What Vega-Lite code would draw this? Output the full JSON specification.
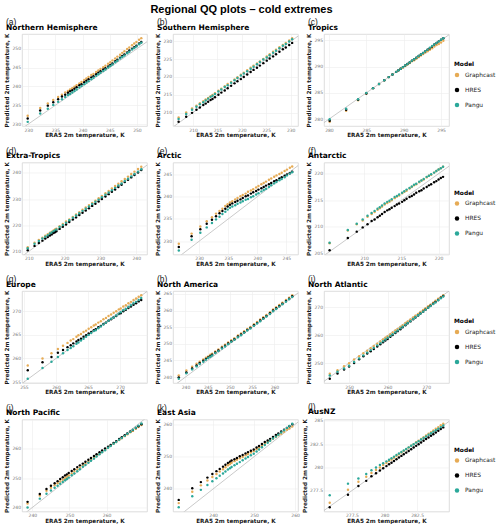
{
"$schema":"https://vega.github.io/schema/vega-lite/v6.json",
"padding":{"left":3,"top":3,"right":0,"bottom":0},
"title":{"text":"Regional QQ plots – cold extremes","anchor":"middle","frame":"bounds","dx":-8,"font":"Liberation Sans","fontSize":11,"fontWeight":"bold","color":"#000","offset":3},
"datasets":{
"diag":[{"x":100,"y":100},{"x":400,"y":400}],
"a":[{"x":229.9,"g":232.2,"h":231.5,"p":230.6},{"x":232.2,"g":234.3,"h":233.6,"p":232.8},{"x":233.6,"g":235.5,"h":234.9,"p":234.1},{"x":234.6,"g":236.4,"h":235.8,"p":235.1},{"x":235.5,"g":237.2,"h":236.6,"p":235.9},{"x":236.2,"g":237.8,"h":237.3,"p":236.6},{"x":236.8,"g":238.4,"h":237.8,"p":237.2},{"x":237.3,"g":238.8,"h":238.3,"p":237.7},{"x":237.7,"g":239.2,"h":238.7,"p":238.0},{"x":238.1,"g":239.5,"h":239.0,"p":238.4},{"x":238.5,"g":239.9,"h":239.4,"p":238.8},{"x":238.9,"g":240.3,"h":239.8,"p":239.2},{"x":239.4,"g":240.8,"h":240.3,"p":239.7},{"x":239.8,"g":241.2,"h":240.6,"p":240.1},{"x":240.3,"g":241.7,"h":241.1,"p":240.6},{"x":240.7,"g":242.1,"h":241.5,"p":241.0},{"x":241.1,"g":242.5,"h":241.9,"p":241.4},{"x":241.6,"g":243.0,"h":242.4,"p":241.9},{"x":242.0,"g":243.3,"h":242.7,"p":242.3},{"x":242.5,"g":243.8,"h":243.2,"p":242.8},{"x":242.9,"g":244.2,"h":243.6,"p":243.2},{"x":243.3,"g":244.6,"h":244.0,"p":243.6},{"x":243.8,"g":245.1,"h":244.5,"p":244.1},{"x":244.2,"g":245.5,"h":244.8,"p":244.5},{"x":244.7,"g":246.0,"h":245.3,"p":245.0},{"x":245.1,"g":246.4,"h":245.7,"p":245.4},{"x":245.5,"g":246.9,"h":246.1,"p":245.8},{"x":246.0,"g":247.4,"h":246.7,"p":246.4},{"x":246.4,"g":247.9,"h":247.1,"p":246.8},{"x":246.9,"g":248.4,"h":247.6,"p":247.4},{"x":247.3,"g":248.9,"h":248.1,"p":247.8},{"x":247.7,"g":249.3,"h":248.5,"p":248.2},{"x":248.2,"g":249.9,"h":249.0,"p":248.8},{"x":248.6,"g":250.3,"h":249.5,"p":249.2},{"x":249.1,"g":250.9,"h":250.0,"p":249.8},{"x":249.5,"g":251.4,"h":250.4,"p":250.2},{"x":249.9,"g":251.8,"h":250.8,"p":250.6},{"x":250.4,"g":252.4,"h":251.4,"p":251.2},{"x":250.8,"g":252.8,"h":251.8,"p":251.6}],
"b":[{"x":207.05,"g":208.6,"h":207.4,"p":208.2},{"x":208.6,"g":210.0,"h":208.8,"p":209.6},{"x":209.8,"g":211.1,"h":209.9,"p":210.8},{"x":210.7,"g":211.9,"h":210.8,"p":211.6},{"x":211.4,"g":212.6,"h":211.4,"p":212.3},{"x":212.1,"g":213.2,"h":212.1,"p":212.9},{"x":212.6,"g":213.7,"h":212.5,"p":213.4},{"x":213.1,"g":214.1,"h":213.0,"p":213.9},{"x":213.6,"g":214.6,"h":213.5,"p":214.4},{"x":214.0,"g":214.9,"h":213.8,"p":214.7},{"x":214.5,"g":215.4,"h":214.3,"p":215.2},{"x":215.2,"g":216.1,"h":215.0,"p":215.9},{"x":215.8,"g":216.7,"h":215.6,"p":216.5},{"x":216.5,"g":217.4,"h":216.2,"p":217.2},{"x":217.1,"g":218.0,"h":216.8,"p":217.7},{"x":217.8,"g":218.6,"h":217.5,"p":218.4},{"x":218.5,"g":219.3,"h":218.2,"p":219.1},{"x":219.1,"g":219.9,"h":218.8,"p":219.7},{"x":219.8,"g":220.6,"h":219.4,"p":220.4},{"x":220.4,"g":221.2,"h":220.0,"p":221.0},{"x":221.1,"g":221.9,"h":220.7,"p":221.6},{"x":221.8,"g":222.6,"h":221.4,"p":222.3},{"x":222.4,"g":223.2,"h":222.0,"p":222.9},{"x":223.1,"g":223.8,"h":222.6,"p":223.6},{"x":223.7,"g":224.4,"h":223.2,"p":224.2},{"x":224.4,"g":225.1,"h":223.9,"p":224.9},{"x":225.1,"g":225.8,"h":224.6,"p":225.5},{"x":225.7,"g":226.4,"h":225.2,"p":226.1},{"x":226.4,"g":227.1,"h":225.8,"p":226.8},{"x":227.0,"g":227.7,"h":226.4,"p":227.4},{"x":227.7,"g":228.4,"h":227.1,"p":228.1},{"x":228.4,"g":229.0,"h":227.8,"p":228.8},{"x":229.0,"g":229.6,"h":228.3,"p":229.3},{"x":229.7,"g":230.3,"h":229.0,"p":230.0},{"x":230.3,"g":230.9,"h":229.6,"p":230.6}],
"c":[{"x":280.1,"g":279.5,"h":279.7,"p":280.0},{"x":282.3,"g":281.6,"h":281.8,"p":282.0},{"x":283.9,"g":283.6,"h":283.7,"p":283.8},{"x":285.0,"g":284.9,"h":284.9,"p":285.0},{"x":285.9,"g":285.9,"h":285.9,"p":285.9},{"x":286.7,"g":286.7,"h":286.7,"p":286.7},{"x":287.4,"g":287.4,"h":287.4,"p":287.4},{"x":288.0,"g":288.0,"h":288.0,"p":288.0},{"x":288.5,"g":288.5,"h":288.5,"p":288.5},{"x":289.0,"g":289.0,"h":289.0,"p":289.0},{"x":289.3,"g":289.3,"h":289.3,"p":289.3},{"x":289.6,"g":289.6,"h":289.6,"p":289.6},{"x":289.9,"g":289.8,"h":289.9,"p":289.9},{"x":290.2,"g":290.1,"h":290.2,"p":290.2},{"x":290.5,"g":290.4,"h":290.5,"p":290.5},{"x":290.8,"g":290.7,"h":290.8,"p":290.8},{"x":291.1,"g":291.0,"h":291.1,"p":291.1},{"x":291.4,"g":291.2,"h":291.4,"p":291.4},{"x":291.7,"g":291.5,"h":291.7,"p":291.7},{"x":292.0,"g":291.8,"h":292.0,"p":292.0},{"x":292.3,"g":292.1,"h":292.3,"p":292.3},{"x":292.6,"g":292.4,"h":292.6,"p":292.6},{"x":292.9,"g":292.7,"h":292.9,"p":292.9},{"x":293.2,"g":292.9,"h":293.2,"p":293.2},{"x":293.5,"g":293.2,"h":293.5,"p":293.6},{"x":293.8,"g":293.5,"h":293.8,"p":293.9},{"x":294.1,"g":293.8,"h":294.2,"p":294.2},{"x":294.4,"g":294.1,"h":294.5,"p":294.5},{"x":294.7,"g":294.3,"h":294.8,"p":294.8},{"x":295.0,"g":294.6,"h":295.1,"p":295.1},{"x":295.3,"g":294.9,"h":295.4,"p":295.4}],
"d":[{"x":209.7,"g":211.6,"h":210.4,"p":211.2},{"x":211.6,"g":213.3,"h":212.1,"p":212.9},{"x":212.8,"g":214.4,"h":213.2,"p":214.0},{"x":213.8,"g":215.2,"h":214.1,"p":214.9},{"x":214.6,"g":216.0,"h":214.9,"p":215.6},{"x":215.3,"g":216.6,"h":215.5,"p":216.2},{"x":215.9,"g":217.1,"h":216.1,"p":216.8},{"x":216.4,"g":217.5,"h":216.5,"p":217.2},{"x":216.9,"g":218.0,"h":217.0,"p":217.7},{"x":217.3,"g":218.4,"h":217.3,"p":218.0},{"x":217.7,"g":218.7,"h":217.7,"p":218.4},{"x":218.6,"g":219.6,"h":218.6,"p":219.3},{"x":219.5,"g":220.5,"h":219.4,"p":220.1},{"x":220.4,"g":221.4,"h":220.3,"p":221.0},{"x":221.3,"g":222.2,"h":221.2,"p":221.9},{"x":222.3,"g":223.2,"h":222.2,"p":222.9},{"x":223.2,"g":224.1,"h":223.0,"p":223.7},{"x":224.1,"g":225.0,"h":223.9,"p":224.6},{"x":225.0,"g":225.9,"h":224.8,"p":225.5},{"x":225.9,"g":226.8,"h":225.6,"p":226.3},{"x":226.8,"g":227.7,"h":226.5,"p":227.2},{"x":227.7,"g":228.5,"h":227.4,"p":228.1},{"x":228.6,"g":229.4,"h":228.2,"p":229.0},{"x":229.5,"g":230.3,"h":229.1,"p":229.8},{"x":230.4,"g":231.2,"h":230.0,"p":230.7},{"x":231.4,"g":232.2,"h":231.0,"p":231.7},{"x":232.3,"g":233.1,"h":231.9,"p":232.5},{"x":233.2,"g":234.1,"h":232.8,"p":233.4},{"x":234.1,"g":235.0,"h":233.7,"p":234.3},{"x":235.0,"g":235.9,"h":234.6,"p":235.2},{"x":235.9,"g":236.8,"h":235.5,"p":236.0},{"x":236.8,"g":237.7,"h":236.5,"p":236.9},{"x":237.7,"g":238.6,"h":237.4,"p":237.8},{"x":238.6,"g":239.6,"h":238.3,"p":238.7},{"x":239.5,"g":240.5,"h":239.2,"p":239.6},{"x":240.5,"g":241.5,"h":240.2,"p":240.5},{"x":241.4,"g":242.4,"h":241.1,"p":241.4}],
"e":[{"x":226.5,"g":229.4,"h":228.7,"p":227.9},{"x":228.7,"g":231.7,"h":231.1,"p":230.3},{"x":230.2,"g":233.3,"h":232.7,"p":231.9},{"x":231.3,"g":234.5,"h":233.9,"p":233.1},{"x":232.2,"g":235.4,"h":234.8,"p":234.1},{"x":232.9,"g":236.2,"h":235.6,"p":234.9},{"x":233.5,"g":236.8,"h":236.3,"p":235.5},{"x":234.0,"g":237.3,"h":236.8,"p":236.1},{"x":234.5,"g":237.9,"h":237.3,"p":236.6},{"x":234.9,"g":238.3,"h":237.8,"p":237.1},{"x":235.3,"g":238.7,"h":238.2,"p":237.5},{"x":235.7,"g":239.0,"h":238.5,"p":237.8},{"x":236.2,"g":239.4,"h":238.8,"p":238.1},{"x":236.6,"g":239.7,"h":239.1,"p":238.4},{"x":237.1,"g":240.1,"h":239.4,"p":238.7},{"x":237.5,"g":240.4,"h":239.7,"p":239.0},{"x":238.0,"g":240.7,"h":240.1,"p":239.3},{"x":238.4,"g":241.1,"h":240.3,"p":239.5},{"x":238.9,"g":241.4,"h":240.7,"p":239.9},{"x":239.3,"g":241.7,"h":241.0,"p":240.1},{"x":239.8,"g":242.1,"h":241.3,"p":240.5},{"x":240.2,"g":242.4,"h":241.6,"p":240.8},{"x":240.7,"g":242.8,"h":241.9,"p":241.2},{"x":241.1,"g":243.1,"h":242.2,"p":241.5},{"x":241.5,"g":243.4,"h":242.5,"p":241.8},{"x":242.0,"g":243.8,"h":242.8,"p":242.2},{"x":242.4,"g":244.1,"h":243.1,"p":242.6},{"x":242.9,"g":244.5,"h":243.5,"p":243.0},{"x":243.3,"g":244.8,"h":243.7,"p":243.3},{"x":243.8,"g":245.1,"h":244.1,"p":243.7},{"x":244.2,"g":245.4,"h":244.4,"p":244.0},{"x":244.7,"g":245.8,"h":244.7,"p":244.4},{"x":245.1,"g":246.1,"h":245.0,"p":244.8},{"x":245.6,"g":246.5,"h":245.3,"p":245.2},{"x":246.0,"g":246.8,"h":245.6,"p":245.5}],
"f":[{"x":205.35,"g":206.9,"h":205.6,"p":207.0},{"x":207.8,"g":209.3,"h":207.9,"p":209.4},{"x":209.0,"g":210.5,"h":209.1,"p":210.6},{"x":209.8,"g":211.2,"h":209.9,"p":211.4},{"x":210.45,"g":211.9,"h":210.5,"p":212.1},{"x":211.0,"g":212.4,"h":211.1,"p":212.6},{"x":211.4,"g":212.8,"h":211.4,"p":213.0},{"x":211.8,"g":213.2,"h":211.8,"p":213.4},{"x":212.1,"g":213.5,"h":212.1,"p":213.7},{"x":212.4,"g":213.8,"h":212.4,"p":214.0},{"x":212.75,"g":214.2,"h":212.8,"p":214.4},{"x":213.1,"g":214.5,"h":213.1,"p":214.7},{"x":213.4,"g":214.7,"h":213.3,"p":214.9},{"x":213.7,"g":215.0,"h":213.6,"p":215.2},{"x":214.1,"g":215.4,"h":213.9,"p":215.6},{"x":214.4,"g":215.7,"h":214.2,"p":215.8},{"x":214.7,"g":215.9,"h":214.4,"p":216.1},{"x":215.1,"g":216.3,"h":214.7,"p":216.4},{"x":215.4,"g":216.6,"h":215.0,"p":216.7},{"x":215.7,"g":216.8,"h":215.3,"p":217.0},{"x":216.1,"g":217.2,"h":215.6,"p":217.3},{"x":216.4,"g":217.5,"h":215.8,"p":217.6},{"x":216.7,"g":217.8,"h":216.1,"p":217.9},{"x":217.0,"g":218.0,"h":216.4,"p":218.1},{"x":217.4,"g":218.4,"h":216.7,"p":218.5},{"x":217.7,"g":218.7,"h":216.9,"p":218.7},{"x":218.0,"g":218.9,"h":217.2,"p":219.0},{"x":218.4,"g":219.3,"h":217.5,"p":219.4},{"x":218.7,"g":219.6,"h":217.8,"p":219.6},{"x":219.0,"g":219.8,"h":218.0,"p":219.9},{"x":219.4,"g":220.2,"h":218.4,"p":220.2},{"x":219.7,"g":220.5,"h":218.6,"p":220.5},{"x":220.0,"g":220.8,"h":218.9,"p":220.8},{"x":220.3,"g":221.0,"h":219.2,"p":221.0},{"x":220.6,"g":221.3,"h":219.4,"p":221.3}],
"g":[{"x":255.6,"g":258.5,"h":257.5,"p":255.7},{"x":257.9,"g":260.0,"h":259.2,"p":258.0},{"x":259.3,"g":261.1,"h":260.3,"p":259.3},{"x":260.3,"g":262.0,"h":261.2,"p":260.3},{"x":261.1,"g":262.7,"h":261.8,"p":261.1},{"x":261.8,"g":263.3,"h":262.4,"p":261.8},{"x":262.3,"g":263.8,"h":262.8,"p":262.2},{"x":262.7,"g":264.1,"h":263.2,"p":262.6},{"x":263.2,"g":264.6,"h":263.6,"p":263.1},{"x":263.5,"g":264.9,"h":263.9,"p":263.4},{"x":263.9,"g":265.2,"h":264.2,"p":263.8},{"x":264.3,"g":265.6,"h":264.6,"p":264.2},{"x":264.7,"g":265.9,"h":264.9,"p":264.6},{"x":265.1,"g":266.3,"h":265.3,"p":265.0},{"x":265.5,"g":266.6,"h":265.6,"p":265.4},{"x":265.9,"g":267.0,"h":266.0,"p":265.8},{"x":266.2,"g":267.2,"h":266.2,"p":266.0},{"x":266.6,"g":267.6,"h":266.6,"p":266.4},{"x":267.0,"g":267.9,"h":266.9,"p":266.8},{"x":267.4,"g":268.3,"h":267.3,"p":267.2},{"x":267.8,"g":268.6,"h":267.6,"p":267.6},{"x":268.2,"g":269.0,"h":268.0,"p":268.0},{"x":268.6,"g":269.3,"h":268.3,"p":268.4},{"x":269.0,"g":269.7,"h":268.7,"p":268.7},{"x":269.4,"g":270.0,"h":269.0,"p":269.1},{"x":269.8,"g":270.4,"h":269.4,"p":269.5},{"x":270.1,"g":270.6,"h":269.6,"p":269.8},{"x":270.5,"g":271.0,"h":270.0,"p":270.2},{"x":270.9,"g":271.3,"h":270.3,"p":270.5},{"x":271.3,"g":271.7,"h":270.7,"p":270.9},{"x":271.7,"g":272.0,"h":271.0,"p":271.3},{"x":272.1,"g":272.4,"h":271.4,"p":271.7},{"x":272.5,"g":272.7,"h":271.7,"p":272.0},{"x":272.9,"g":273.1,"h":272.1,"p":272.4},{"x":273.3,"g":273.4,"h":272.4,"p":272.8}],
"h":[{"x":238.5,"g":240.5,"h":239.9,"p":239.5},{"x":240.2,"g":242.0,"h":241.4,"p":241.1},{"x":241.5,"g":243.1,"h":242.6,"p":242.3},{"x":242.5,"g":244.0,"h":243.5,"p":243.2},{"x":243.2,"g":244.6,"h":244.2,"p":243.9},{"x":244.0,"g":245.3,"h":244.9,"p":244.6},{"x":244.6,"g":245.8,"h":245.4,"p":245.2},{"x":245.1,"g":246.2,"h":245.9,"p":245.7},{"x":245.6,"g":246.7,"h":246.3,"p":246.1},{"x":246.0,"g":247.0,"h":246.7,"p":246.5},{"x":246.7,"g":247.7,"h":247.4,"p":247.2},{"x":247.4,"g":248.3,"h":248.0,"p":247.8},{"x":248.2,"g":249.1,"h":248.8,"p":248.6},{"x":248.9,"g":249.7,"h":249.4,"p":249.2},{"x":249.6,"g":250.4,"h":250.1,"p":249.9},{"x":250.3,"g":251.1,"h":250.8,"p":250.6},{"x":251.0,"g":251.7,"h":251.4,"p":251.2},{"x":251.8,"g":252.5,"h":252.2,"p":252.0},{"x":252.5,"g":253.1,"h":252.8,"p":252.6},{"x":253.2,"g":253.8,"h":253.5,"p":253.3},{"x":253.9,"g":254.5,"h":254.2,"p":254.0},{"x":254.6,"g":255.1,"h":254.8,"p":254.6},{"x":255.4,"g":255.9,"h":255.6,"p":255.4},{"x":256.1,"g":256.6,"h":256.3,"p":256.1},{"x":256.8,"g":257.3,"h":257.0,"p":256.8},{"x":257.5,"g":258.0,"h":257.7,"p":257.5},{"x":258.2,"g":258.7,"h":258.4,"p":258.2},{"x":259.0,"g":259.5,"h":259.2,"p":259.0},{"x":259.7,"g":260.3,"h":260.0,"p":259.8},{"x":260.4,"g":261.0,"h":260.7,"p":260.5},{"x":261.1,"g":261.7,"h":261.4,"p":261.2},{"x":261.8,"g":262.4,"h":262.1,"p":261.9},{"x":262.6,"g":263.2,"h":262.9,"p":262.7},{"x":263.3,"g":263.9,"h":263.6,"p":263.4},{"x":264.0,"g":264.6,"h":264.3,"p":264.1}],
"i":[{"x":245.0,"g":246.2,"h":244.4,"p":245.6},{"x":247.0,"g":247.5,"h":246.3,"p":246.9},{"x":248.7,"g":248.9,"h":247.7,"p":248.1},{"x":250.0,"g":250.0,"h":248.8,"p":249.1},{"x":251.3,"g":251.3,"h":250.1,"p":250.4},{"x":252.6,"g":252.5,"h":251.4,"p":251.7},{"x":253.7,"g":253.6,"h":252.5,"p":252.8},{"x":254.7,"g":254.5,"h":253.5,"p":253.8},{"x":255.6,"g":255.4,"h":254.3,"p":254.7},{"x":256.4,"g":256.2,"h":255.1,"p":255.5},{"x":257.3,"g":257.0,"h":256.0,"p":256.4},{"x":258.1,"g":257.8,"h":256.8,"p":257.2},{"x":258.8,"g":258.5,"h":257.5,"p":257.9},{"x":259.4,"g":259.1,"h":258.1,"p":258.5},{"x":260.0,"g":259.7,"h":258.7,"p":259.1},{"x":260.7,"g":260.4,"h":259.5,"p":259.8},{"x":261.3,"g":261.0,"h":260.1,"p":260.4},{"x":262.0,"g":261.7,"h":260.8,"p":261.1},{"x":262.6,"g":262.3,"h":261.5,"p":261.7},{"x":263.3,"g":263.0,"h":262.2,"p":262.5},{"x":263.9,"g":263.6,"h":262.9,"p":263.1},{"x":264.6,"g":264.4,"h":263.6,"p":263.8},{"x":265.2,"g":265.0,"h":264.3,"p":264.4},{"x":265.9,"g":265.7,"h":265.0,"p":265.1},{"x":266.6,"g":266.4,"h":265.8,"p":265.9},{"x":267.2,"g":267.0,"h":266.4,"p":266.5},{"x":267.9,"g":267.7,"h":267.1,"p":267.2},{"x":268.5,"g":268.4,"h":267.8,"p":267.8},{"x":269.2,"g":269.1,"h":268.5,"p":268.5},{"x":269.8,"g":269.7,"h":269.2,"p":269.2},{"x":270.5,"g":270.4,"h":269.9,"p":269.9},{"x":271.1,"g":271.0,"h":270.6,"p":270.5},{"x":271.8,"g":271.7,"h":271.3,"p":271.2},{"x":272.4,"g":272.4,"h":272.0,"p":271.8},{"x":273.1,"g":273.1,"h":272.7,"p":272.6},{"x":273.8,"g":273.8,"h":273.5,"p":273.3},{"x":274.4,"g":274.4,"h":274.1,"p":273.9}],
"j":[{"x":238.7,"g":241.3,"h":241.9,"p":240.0},{"x":242.0,"g":244.1,"h":244.6,"p":243.0},{"x":243.8,"g":245.7,"h":246.3,"p":244.7},{"x":245.0,"g":246.7,"h":247.4,"p":245.8},{"x":246.0,"g":247.6,"h":248.3,"p":246.7},{"x":246.8,"g":248.3,"h":249.0,"p":247.4},{"x":247.5,"g":248.9,"h":249.7,"p":248.1},{"x":248.2,"g":249.5,"h":250.3,"p":248.7},{"x":248.8,"g":250.0,"h":250.9,"p":249.3},{"x":249.3,"g":250.5,"h":251.3,"p":249.7},{"x":249.8,"g":250.9,"h":251.8,"p":250.2},{"x":250.6,"g":251.6,"h":252.5,"p":251.0},{"x":251.3,"g":252.3,"h":253.1,"p":251.6},{"x":252.1,"g":253.0,"h":253.8,"p":252.4},{"x":252.8,"g":253.6,"h":254.4,"p":253.1},{"x":253.6,"g":254.4,"h":255.0,"p":253.9},{"x":254.3,"g":255.0,"h":255.6,"p":254.5},{"x":255.1,"g":255.7,"h":256.3,"p":255.3},{"x":255.8,"g":256.4,"h":256.9,"p":256.0},{"x":256.6,"g":257.1,"h":257.6,"p":256.7},{"x":257.3,"g":257.7,"h":258.2,"p":257.4},{"x":258.1,"g":258.5,"h":258.9,"p":258.2},{"x":258.8,"g":259.1,"h":259.5,"p":258.9},{"x":259.6,"g":259.8,"h":260.2,"p":259.6},{"x":260.4,"g":260.5,"h":260.8,"p":260.4},{"x":261.1,"g":261.1,"h":261.4,"p":261.0},{"x":261.9,"g":261.8,"h":262.1,"p":261.8},{"x":262.6,"g":262.4,"h":262.7,"p":262.4},{"x":263.4,"g":263.1,"h":263.4,"p":263.2},{"x":264.1,"g":263.7,"h":264.0,"p":263.8},{"x":264.9,"g":264.4,"h":264.7,"p":264.5},{"x":265.6,"g":265.0,"h":265.3,"p":265.2},{"x":266.4,"g":265.7,"h":266.0,"p":265.9},{"x":267.1,"g":266.2,"h":266.5,"p":266.6},{"x":267.9,"g":266.9,"h":267.2,"p":267.3},{"x":268.6,"g":267.5,"h":267.8,"p":268.0},{"x":269.4,"g":268.2,"h":268.5,"p":268.7}],
"k":[{"x":231.6,"g":235.6,"h":236.6,"p":234.3},{"x":234.9,"g":239.1,"h":240.2,"p":237.7},{"x":237.0,"g":241.1,"h":242.1,"p":239.7},{"x":238.6,"g":242.6,"h":243.5,"p":241.2},{"x":239.8,"g":243.7,"h":244.6,"p":242.4},{"x":240.8,"g":244.6,"h":245.5,"p":243.3},{"x":241.6,"g":245.4,"h":246.2,"p":244.1},{"x":242.4,"g":246.1,"h":246.9,"p":244.8},{"x":243.0,"g":246.7,"h":247.5,"p":245.4},{"x":243.6,"g":247.3,"h":248.0,"p":246.0},{"x":244.1,"g":247.7,"h":248.4,"p":246.4},{"x":244.5,"g":248.1,"h":248.8,"p":246.8},{"x":245.2,"g":248.6,"h":249.2,"p":247.3},{"x":245.8,"g":249.0,"h":249.6,"p":247.8},{"x":246.5,"g":249.5,"h":250.1,"p":248.3},{"x":247.2,"g":249.9,"h":250.5,"p":248.9},{"x":247.9,"g":250.4,"h":251.0,"p":249.4},{"x":248.5,"g":250.8,"h":251.4,"p":249.9},{"x":249.2,"g":251.3,"h":251.8,"p":250.4},{"x":249.9,"g":251.7,"h":252.2,"p":250.9},{"x":250.6,"g":252.3,"h":252.8,"p":251.6},{"x":251.2,"g":252.8,"h":253.3,"p":252.2},{"x":251.9,"g":253.3,"h":253.9,"p":252.9},{"x":252.6,"g":253.9,"h":254.5,"p":253.6},{"x":253.3,"g":254.5,"h":255.0,"p":254.3},{"x":253.9,"g":255.0,"h":255.5,"p":254.9},{"x":254.6,"g":255.5,"h":256.1,"p":255.6},{"x":255.3,"g":256.1,"h":256.7,"p":256.2},{"x":255.9,"g":256.6,"h":257.2,"p":256.8},{"x":256.6,"g":257.1,"h":257.8,"p":257.5},{"x":257.3,"g":257.7,"h":258.3,"p":258.2},{"x":258.0,"g":258.3,"h":258.9,"p":258.9},{"x":258.6,"g":258.7,"h":259.4,"p":259.5},{"x":259.3,"g":259.3,"h":260.0,"p":260.2}],
"l":[{"x":275.8,"g":276.2,"h":275.7,"p":277.0},{"x":277.2,"g":277.6,"h":277.05,"p":278.25},{"x":278.0,"g":278.45,"h":278.0,"p":278.8},{"x":278.6,"g":279.0,"h":278.55,"p":279.3},{"x":279.0,"g":279.4,"h":279.05,"p":279.7},{"x":279.35,"g":279.72,"h":279.38,"p":280.0},{"x":279.65,"g":280.0,"h":279.67,"p":280.25},{"x":279.9,"g":280.25,"h":279.9,"p":280.45},{"x":280.15,"g":280.48,"h":280.14,"p":280.65},{"x":280.35,"g":280.68,"h":280.33,"p":280.82},{"x":280.54,"g":280.86,"h":280.51,"p":280.99},{"x":280.73,"g":281.05,"h":280.69,"p":281.16},{"x":280.92,"g":281.23,"h":280.88,"p":281.33},{"x":281.11,"g":281.42,"h":281.06,"p":281.49},{"x":281.3,"g":281.6,"h":281.24,"p":281.66},{"x":281.48,"g":281.77,"h":281.41,"p":281.82},{"x":281.67,"g":281.96,"h":281.59,"p":281.99},{"x":281.86,"g":282.14,"h":281.77,"p":282.16},{"x":282.05,"g":282.33,"h":281.96,"p":282.33},{"x":282.24,"g":282.51,"h":282.14,"p":282.5},{"x":282.43,"g":282.7,"h":282.32,"p":282.67},{"x":282.62,"g":282.88,"h":282.5,"p":282.83},{"x":282.81,"g":283.06,"h":282.68,"p":283.0},{"x":283.0,"g":283.25,"h":282.87,"p":283.17},{"x":283.19,"g":283.43,"h":283.05,"p":283.34},{"x":283.38,"g":283.62,"h":283.23,"p":283.51},{"x":283.57,"g":283.8,"h":283.41,"p":283.68},{"x":283.75,"g":283.97,"h":283.58,"p":283.84},{"x":283.94,"g":284.16,"h":283.76,"p":284.0},{"x":284.13,"g":284.34,"h":283.95,"p":284.17},{"x":284.32,"g":284.53,"h":284.13,"p":284.34},{"x":284.51,"g":284.71,"h":284.31,"p":284.51}]
},
"vconcat":[
{"hconcat":[
{"width":125,"height":92,"title":{"text":"(a)","subtitle":"\u00a0\u00a0\u00a0\u00a0\u00a0\u00a0Northern Hemisphere"},
"encoding":{"x":{"field":"x","type":"quantitative","scale":{"domain":[228.85,251.85],"nice":false,"zero":false},"axis":{"values":[230,235,240,245,250]},"title":"ERA5 2m temperature, K"},"y":{"field":"y","type":"quantitative","scale":{"domain":[229.5,253.9],"nice":false,"zero":false},"axis":{"values":[230,235,240,245,250]},"title":"Predicted 2m temperature, K"}},
"layer":[{"data":{"name":"diag"},"mark":{"type":"line","clip":true,"color":"#b3b3b3","strokeWidth":0.7}},
{"data":{"name":"a"},"transform":[{"fold":["g","h","p"],"as":["m","y"]}],"mark":{"type":"circle","size":6,"opacity":1},"encoding":{"color":{"field":"m","type":"nominal","scale":{"domain":["g","h","p"],"range":["#E6AB55","#000000","#2BA89A"]},"legend":{"title":"Model","orient":"none","legendX":432,"legendY":27,"labelExpr":"datum.label == 'g' ? 'Graphcast' : datum.label == 'h' ? 'HRES' : 'Pangu'"}}}}]},
{"width":125,"height":92,"title":{"text":"(b)","subtitle":"\u00a0\u00a0\u00a0\u00a0\u00a0\u00a0Southern Hemisphere"},
"encoding":{"x":{"field":"x","type":"quantitative","scale":{"domain":[205.9,231.5],"nice":false,"zero":false},"axis":{"values":[210,215,220,225,230]},"title":"ERA5 2m temperature, K"},"y":{"field":"y","type":"quantitative","scale":{"domain":[206.2,232.1],"nice":false,"zero":false},"axis":{"values":[210,215,220,225,230]},"title":"Predicted 2m temperature, K"}},
"layer":[{"data":{"name":"diag"},"mark":{"type":"line","clip":true,"color":"#b3b3b3","strokeWidth":0.7}},
{"data":{"name":"b"},"transform":[{"fold":["g","h","p"],"as":["m","y"]}],"mark":{"type":"circle","size":6,"opacity":1},"encoding":{"color":{"field":"m","type":"nominal","scale":{"domain":["g","h","p"],"range":["#E6AB55","#000000","#2BA89A"]},"legend":{"title":"Model","orient":"none","legendX":432,"legendY":27,"labelExpr":"datum.label == 'g' ? 'Graphcast' : datum.label == 'h' ? 'HRES' : 'Pangu'"}}}}]},
{"width":125,"height":92,"title":{"text":"(c)","subtitle":"\u00a0\u00a0\u00a0\u00a0\u00a0\u00a0Tropics"},
"encoding":{"x":{"field":"x","type":"quantitative","scale":{"domain":[279.34,296.06],"nice":false,"zero":false},"axis":{"values":[280,285,290,295]},"title":"ERA5 2m temperature, K"},"y":{"field":"y","type":"quantitative","scale":{"domain":[278.7,296.2],"nice":false,"zero":false},"axis":{"values":[280,285,290,295]},"title":"Predicted 2m temperature, K"}},
"layer":[{"data":{"name":"diag"},"mark":{"type":"line","clip":true,"color":"#b3b3b3","strokeWidth":0.7}},
{"data":{"name":"c"},"transform":[{"fold":["g","h","p"],"as":["m","y"]}],"mark":{"type":"circle","size":6,"opacity":1},"encoding":{"color":{"field":"m","type":"nominal","scale":{"domain":["g","h","p"],"range":["#E6AB55","#000000","#2BA89A"]},"legend":{"title":"Model","orient":"none","legendX":432,"legendY":27,"labelExpr":"datum.label == 'g' ? 'Graphcast' : datum.label == 'h' ? 'HRES' : 'Pangu'"}}}}]}
],"spacing":26,"bounds":"flush"},
{"hconcat":[
{"width":125,"height":92,"title":{"text":"(d)","subtitle":"\u00a0\u00a0\u00a0\u00a0\u00a0\u00a0Extra-Tropics"},
"encoding":{"x":{"field":"x","type":"quantitative","scale":{"domain":[208.1,243.0],"nice":false,"zero":false},"axis":{"values":[210,220,230,240]},"title":"ERA5 2m temperature, K"},"y":{"field":"y","type":"quantitative","scale":{"domain":[208.8,244.0],"nice":false,"zero":false},"axis":{"values":[210,220,230,240]},"title":"Predicted 2m temperature, K"}},
"layer":[{"data":{"name":"diag"},"mark":{"type":"line","clip":true,"color":"#b3b3b3","strokeWidth":0.7}},
{"data":{"name":"d"},"transform":[{"fold":["g","h","p"],"as":["m","y"]}],"mark":{"type":"circle","size":6,"opacity":1},"encoding":{"color":{"field":"m","type":"nominal","scale":{"domain":["g","h","p"],"range":["#E6AB55","#000000","#2BA89A"]},"legend":{"title":"Model","orient":"none","legendX":432,"legendY":27,"labelExpr":"datum.label == 'g' ? 'Graphcast' : datum.label == 'h' ? 'HRES' : 'Pangu'"}}}}]},
{"width":125,"height":92,"title":{"text":"(e)","subtitle":"\u00a0\u00a0\u00a0\u00a0\u00a0\u00a0Arctic"},
"encoding":{"x":{"field":"x","type":"quantitative","scale":{"domain":[225.5,247.0],"nice":false,"zero":false},"axis":{"values":[230,235,240,245]},"title":"ERA5 2m temperature, K"},"y":{"field":"y","type":"quantitative","scale":{"domain":[227.0,247.7],"nice":false,"zero":false},"axis":{"values":[230,235,240,245]},"title":"Predicted 2m temperature, K"}},
"layer":[{"data":{"name":"diag"},"mark":{"type":"line","clip":true,"color":"#b3b3b3","strokeWidth":0.7}},
{"data":{"name":"e"},"transform":[{"fold":["g","h","p"],"as":["m","y"]}],"mark":{"type":"circle","size":6,"opacity":1},"encoding":{"color":{"field":"m","type":"nominal","scale":{"domain":["g","h","p"],"range":["#E6AB55","#000000","#2BA89A"]},"legend":{"title":"Model","orient":"none","legendX":432,"legendY":27,"labelExpr":"datum.label == 'g' ? 'Graphcast' : datum.label == 'h' ? 'HRES' : 'Pangu'"}}}}]},
{"width":125,"height":92,"title":{"text":"(f)","subtitle":"\u00a0\u00a0\u00a0\u00a0\u00a0\u00a0Antarctic"},
"encoding":{"x":{"field":"x","type":"quantitative","scale":{"domain":[204.6,221.4],"nice":false,"zero":false},"axis":{"values":[210,215,220]},"title":"ERA5 2m temperature, K"},"y":{"field":"y","type":"quantitative","scale":{"domain":[204.8,222.1],"nice":false,"zero":false},"axis":{"values":[205,210,215,220]},"title":"Predicted 2m temperature, K"}},
"layer":[{"data":{"name":"diag"},"mark":{"type":"line","clip":true,"color":"#b3b3b3","strokeWidth":0.7}},
{"data":{"name":"f"},"transform":[{"fold":["g","h","p"],"as":["m","y"]}],"mark":{"type":"circle","size":6,"opacity":1},"encoding":{"color":{"field":"m","type":"nominal","scale":{"domain":["g","h","p"],"range":["#E6AB55","#000000","#2BA89A"]},"legend":{"title":"Model","orient":"none","legendX":432,"legendY":27,"labelExpr":"datum.label == 'g' ? 'Graphcast' : datum.label == 'h' ? 'HRES' : 'Pangu'"}}}}]}
],"spacing":26,"bounds":"flush"},
{"hconcat":[
{"width":125,"height":92,"title":{"text":"(g)","subtitle":"\u00a0\u00a0\u00a0\u00a0\u00a0\u00a0Europe"},
"encoding":{"x":{"field":"x","type":"quantitative","scale":{"domain":[254.7,274.2],"nice":false,"zero":false},"axis":{"values":[255,260,265,270]},"title":"ERA5 2m temperature, K"},"y":{"field":"y","type":"quantitative","scale":{"domain":[254.8,274.3],"nice":false,"zero":false},"axis":{"values":[255,260,265,270]},"title":"Predicted 2m temperature, K"}},
"layer":[{"data":{"name":"diag"},"mark":{"type":"line","clip":true,"color":"#b3b3b3","strokeWidth":0.7}},
{"data":{"name":"g"},"transform":[{"fold":["g","h","p"],"as":["m","y"]}],"mark":{"type":"circle","size":6,"opacity":1},"encoding":{"color":{"field":"m","type":"nominal","scale":{"domain":["g","h","p"],"range":["#E6AB55","#000000","#2BA89A"]},"legend":{"title":"Model","orient":"none","legendX":432,"legendY":27,"labelExpr":"datum.label == 'g' ? 'Graphcast' : datum.label == 'h' ? 'HRES' : 'Pangu'"}}}}]},
{"width":125,"height":92,"title":{"text":"(h)","subtitle":"\u00a0\u00a0\u00a0\u00a0\u00a0\u00a0North America"},
"encoding":{"x":{"field":"x","type":"quantitative","scale":{"domain":[237.2,265.3],"nice":false,"zero":false},"axis":{"values":[240,245,250,255,260]},"title":"ERA5 2m temperature, K"},"y":{"field":"y","type":"quantitative","scale":{"domain":[238.2,265.9],"nice":false,"zero":false},"axis":{"values":[240,245,250,255,260,265]},"title":"Predicted 2m temperature, K"}},
"layer":[{"data":{"name":"diag"},"mark":{"type":"line","clip":true,"color":"#b3b3b3","strokeWidth":0.7}},
{"data":{"name":"h"},"transform":[{"fold":["g","h","p"],"as":["m","y"]}],"mark":{"type":"circle","size":6,"opacity":1},"encoding":{"color":{"field":"m","type":"nominal","scale":{"domain":["g","h","p"],"range":["#E6AB55","#000000","#2BA89A"]},"legend":{"title":"Model","orient":"none","legendX":432,"legendY":27,"labelExpr":"datum.label == 'g' ? 'Graphcast' : datum.label == 'h' ? 'HRES' : 'Pangu'"}}}}]},
{"width":125,"height":92,"title":{"text":"(i)","subtitle":"\u00a0\u00a0\u00a0\u00a0\u00a0\u00a0North Atlantic"},
"encoding":{"x":{"field":"x","type":"quantitative","scale":{"domain":[243.5,275.9],"nice":false,"zero":false},"axis":{"values":[250,260,270]},"title":"ERA5 2m temperature, K"},"y":{"field":"y","type":"quantitative","scale":{"domain":[242.9,275.9],"nice":false,"zero":false},"axis":{"values":[250,260,270]},"title":"Predicted 2m temperature, K"}},
"layer":[{"data":{"name":"diag"},"mark":{"type":"line","clip":true,"color":"#b3b3b3","strokeWidth":0.7}},
{"data":{"name":"i"},"transform":[{"fold":["g","h","p"],"as":["m","y"]}],"mark":{"type":"circle","size":6,"opacity":1},"encoding":{"color":{"field":"m","type":"nominal","scale":{"domain":["g","h","p"],"range":["#E6AB55","#000000","#2BA89A"]},"legend":{"title":"Model","orient":"none","legendX":432,"legendY":27,"labelExpr":"datum.label == 'g' ? 'Graphcast' : datum.label == 'h' ? 'HRES' : 'Pangu'"}}}}]}
],"spacing":26,"bounds":"flush"},
{"hconcat":[
{"width":125,"height":92,"title":{"text":"(j)","subtitle":"\u00a0\u00a0\u00a0\u00a0\u00a0\u00a0North Pacific"},
"encoding":{"x":{"field":"x","type":"quantitative","scale":{"domain":[237.2,270.9],"nice":false,"zero":false},"axis":{"values":[240,250,260]},"title":"ERA5 2m temperature, K"},"y":{"field":"y","type":"quantitative","scale":{"domain":[238.6,270.1],"nice":false,"zero":false},"axis":{"values":[240,250,260]},"title":"Predicted 2m temperature, K"}},
"layer":[{"data":{"name":"diag"},"mark":{"type":"line","clip":true,"color":"#b3b3b3","strokeWidth":0.7}},
{"data":{"name":"j"},"transform":[{"fold":["g","h","p"],"as":["m","y"]}],"mark":{"type":"circle","size":6,"opacity":1},"encoding":{"color":{"field":"m","type":"nominal","scale":{"domain":["g","h","p"],"range":["#E6AB55","#000000","#2BA89A"]},"legend":{"title":"Model","orient":"none","legendX":432,"legendY":27,"labelExpr":"datum.label == 'g' ? 'Graphcast' : datum.label == 'h' ? 'HRES' : 'Pangu'"}}}}]},
{"width":125,"height":92,"title":{"text":"(k)","subtitle":"\u00a0\u00a0\u00a0\u00a0\u00a0\u00a0East Asia"},
"encoding":{"x":{"field":"x","type":"quantitative","scale":{"domain":[230.2,260.7],"nice":false,"zero":false},"axis":{"values":[240,250,260]},"title":"ERA5 2m temperature, K"},"y":{"field":"y","type":"quantitative","scale":{"domain":[233.0,261.5],"nice":false,"zero":false},"axis":{"values":[240,250,260]},"title":"Predicted 2m temperature, K"}},
"layer":[{"data":{"name":"diag"},"mark":{"type":"line","clip":true,"color":"#b3b3b3","strokeWidth":0.7}},
{"data":{"name":"k"},"transform":[{"fold":["g","h","p"],"as":["m","y"]}],"mark":{"type":"circle","size":6,"opacity":1},"encoding":{"color":{"field":"m","type":"nominal","scale":{"domain":["g","h","p"],"range":["#E6AB55","#000000","#2BA89A"]},"legend":{"title":"Model","orient":"none","legendX":432,"legendY":27,"labelExpr":"datum.label == 'g' ? 'Graphcast' : datum.label == 'h' ? 'HRES' : 'Pangu'"}}}}]},
{"width":125,"height":92,"title":{"text":"(l)","subtitle":"\u00a0\u00a0\u00a0\u00a0\u00a0\u00a0AusNZ"},
"encoding":{"x":{"field":"x","type":"quantitative","scale":{"domain":[275.36,284.95],"nice":false,"zero":false},"axis":{"values":[277.5,280,282.5]},"title":"ERA5 2m temperature, K"},"y":{"field":"y","type":"quantitative","scale":{"domain":[275.25,285.16],"nice":false,"zero":false},"axis":{"values":[277.5,280,282.5,285]},"title":"Predicted 2m temperature, K"}},
"layer":[{"data":{"name":"diag"},"mark":{"type":"line","clip":true,"color":"#b3b3b3","strokeWidth":0.7}},
{"data":{"name":"l"},"transform":[{"fold":["g","h","p"],"as":["m","y"]}],"mark":{"type":"circle","size":6,"opacity":1},"encoding":{"color":{"field":"m","type":"nominal","scale":{"domain":["g","h","p"],"range":["#E6AB55","#000000","#2BA89A"]},"legend":{"title":"Model","orient":"none","legendX":432,"legendY":27,"labelExpr":"datum.label == 'g' ? 'Graphcast' : datum.label == 'h' ? 'HRES' : 'Pangu'"}}}}]}
],"spacing":26,"bounds":"flush"}
],
"spacing":7.5,
"resolve":{"scale":{"color":"independent"}},
"config":{
"font":"DejaVu Sans",
"view":{"stroke":"#d4d4d4","strokeWidth":0.8},
"axis":{"grid":true,"gridColor":"#ececec","gridWidth":0.6,"domain":false,"ticks":false,"labelFontSize":4.5,"labelColor":"#777777","labelPadding":1.5,"titleFontSize":5.7,"titleFontWeight":"bold","titleColor":"#1a1a1a","titlePadding":2.5,"format":".6~g","labelFont":"DejaVu Sans","titleFont":"DejaVu Sans"},
"axisX":{"labelPadding":1,"titlePadding":0},
"title":{"anchor":"start","frame":"group","dx":-16,"font":"Liberation Sans","fontSize":8.5,"fontWeight":"normal","color":"#1a1a1a","subtitleFont":"DejaVu Sans","subtitleFontSize":7.5,"subtitleFontWeight":"bold","subtitleColor":"#000000","subtitlePadding":-3,"offset":2},
"legend":{"titleFont":"DejaVu Sans","titleFontSize":5.9,"titleFontWeight":"bold","titleColor":"#000000","labelFont":"DejaVu Sans","labelFontSize":5.9,"labelColor":"#1a1a1a","symbolType":"circle","symbolSize":20,"rowPadding":9,"titlePadding":5,"labelOffset":5}
}
}
